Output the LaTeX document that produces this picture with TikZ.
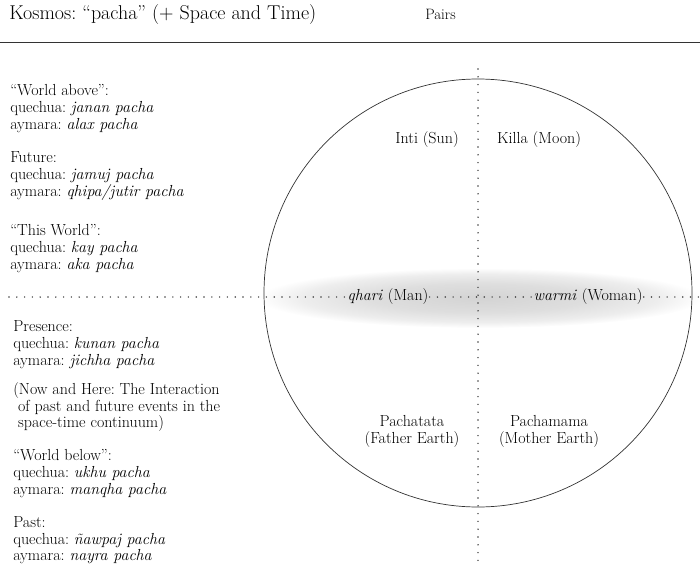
\documentclass[tikz,border=0pt]{standalone}
\usetikzlibrary{positioning}
\pgfdeclareradialshading{band}{\pgfpoint{0bp}{0bp}}{%
  color(0bp)=(black!17); color(12bp)=(black!13); color(20bp)=(black!7); color(25bp)=(white); color(50bp)=(white)}
\frenchspacing
\begin{document}
\begin{tikzpicture}[x=1pt,y=-1pt,line width=0.6pt,
  dotline/.style={line width=1.6pt,line cap=round,dash pattern=on 0pt off 7.8pt,black!75},
  pair/.style={font=\fontsize{16}{17}\selectfont,align=center,inner sep=1pt},
  side/.style={font=\fontsize{16}{16.8}\selectfont,align=left,anchor=north west,inner sep=0pt}]
\useasboundingbox (0,0) rectangle (700,564);
% ---- heading and rule ----
\node[anchor=base west,inner sep=0pt,font=\fontsize{20}{22}\selectfont] (title) at (9,20)
  {Kosmos: ``pacha'' (+ Space and Time)};
\node[anchor=base west,inner sep=0pt,font=\fontsize{15}{16}\selectfont] (pairs) at (425,20) {Pairs};
\draw[line width=0.9pt,black!80] (0,42) -- (700,42);
% ---- grey band and the circle ----
\shade[shading=band] (480,298) ellipse [x radius=222,y radius=30];
\draw[line width=0.7pt,black!80] (478,293) circle [radius=214];
% ---- the four pairs ----
\node[pair] (inti)  at (427,140) {Inti (Sun)};
\node[pair] (killa) at (539,140) {Killa (Moon)};
\node[pair] (qhari) at (388,297) {\textit{qhari} (Man)};
\node[pair] (warmi) at (588,297) {\textit{warmi} (Woman)};
\node[pair] (tata)  at (412,431) {Pachatata\\(Father Earth)};
\node[pair] (mama)  at (549,431) {Pachamama\\(Mother Earth)};
% ---- dotted axes ----
\coordinate (vtop) at (478,69);
\coordinate (vbot) at (478,564);
\coordinate (hleft) at (9,297);
\coordinate (hright) at (700,297);
\draw[dotline] (vtop) -- (vbot);
\draw[dotline] (hleft) -- (qhari.west);
\draw[dotline] (qhari.east) -- (warmi.west);
\draw[dotline] (warmi.east) -- (hright);
% ---- left column: the pachas ----
\node[side] (above) at (10,84.5)
  {``World above'':\\quechua: \textit{janan pacha}\\aymara: \textit{alax pacha}};
\node[side] (future) at (10,151.5)
  {Future:\\quechua: \textit{jamuj pacha}\\aymara: \textit{qhipa/jutir pacha}};
\node[side] (thisw) at (10,224.5)
  {``This World'':\\quechua: \textit{kay pacha}\\aymara: \textit{aka pacha}};
\node[side] (presence) at (13,320.5)
  {Presence:\\quechua: \textit{kunan pacha}\\aymara: \textit{jichha pacha}};
\node[side] (nowhere) at (13,382)
  {(Now and Here: The Interaction\\\ of past and future events in the\\\ space-time continuum)};
\node[side] (below) at (13,449.5)
  {``World below'':\\quechua: \textit{ukhu pacha}\\aymara: \textit{manqha pacha}};
\node[side] (past) at (13,516)
  {Past:\\quechua: \textit{\~nawpaj pacha}\\aymara: \textit{nayra pacha}};
\end{tikzpicture}
\end{document}
